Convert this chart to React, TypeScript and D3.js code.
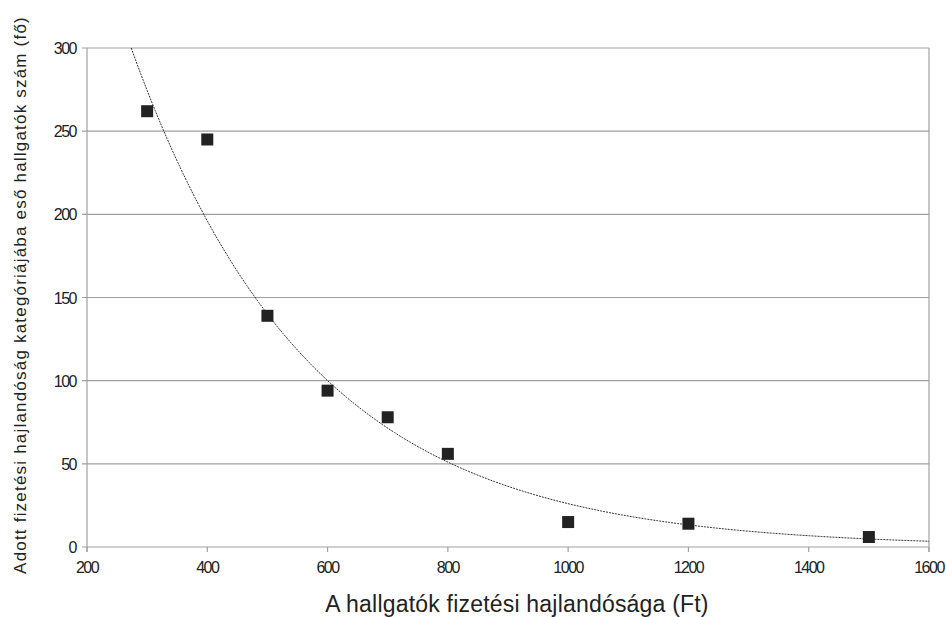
import React from "react";
import * as d3 from "d3";

const xValues = [300, 400, 500, 600, 700, 800, 1000, 1200, 1500];
const yValues = [262, 245, 139, 94, 78, 56, 15, 14, 6];
const xTicks = [200, 400, 600, 800, 1000, 1200, 1400, 1600];
const yTicks = [0, 50, 100, 150, 200, 250, 300];
const xTitle = "A hallgatók fizetési hajlandósága (Ft)";
const yTitle = "Adott fizetési hajlandóság kategóriájába eső hallgatók szám (fő)";

export default function App() {
  const W = 946, H = 617;
  const left = 87, right = 929, top = 48, bottom = 547;
  const x = d3.scaleLinear().domain([200, 1600]).range([left, right]);
  const y = d3.scaleLinear().domain([0, 300]).range([bottom, top]);

  // exponential least-squares trend line computed from the data
  const lx = xValues;
  const ly = yValues.map((v) => Math.log(v));
  const mx = d3.mean(lx)!;
  const my = d3.mean(ly)!;
  let sxy = 0, sxx = 0;
  lx.forEach((v, i) => { sxy += (v - mx) * (ly[i] - my); sxx += (v - mx) * (v - mx); });
  const b = sxy / sxx;
  const a = Math.exp(my - b * mx);
  const xStart = Math.log(300 / a) / b;
  const trendPts = d3.range(0, 201).map((i) => {
    const xv = xStart + ((1600 - xStart) * i) / 200;
    return [xv, a * Math.exp(b * xv)] as [number, number];
  });
  const line = d3.line<[number, number]>().x((d) => x(d[0])).y((d) => y(d[1]));

  const font = "'Liberation Sans', Arial, sans-serif";
  const sq = 12;
  return (
    <svg width={W} height={H} style={{ position: "absolute", left: 0, top: 0, background: "#fff" }}>
      <rect x={0} y={0} width={W} height={H} fill="#fff" />
      {yTicks.map((t) => (
        <g key={"y" + t}>
          <line x1={left - 5} x2={right} y1={y(t)} y2={y(t)} stroke="#a0a0a0" strokeWidth={1.2} />
          <text x={76} y={y(t) + 6} textAnchor="end" fontFamily={font} fontSize={16} fill="#222" letterSpacing={-1.5}>{t}</text>
        </g>
      ))}
      <line x1={left} x2={left} y1={top} y2={bottom + 5} stroke="#a0a0a0" strokeWidth={1.2} />
      <line x1={right} x2={right} y1={top} y2={bottom + 5} stroke="#a0a0a0" strokeWidth={1.2} />
      {xTicks.map((t) => (
        <g key={"x" + t}>
          <line x1={x(t)} x2={x(t)} y1={bottom} y2={bottom + 5} stroke="#a0a0a0" strokeWidth={1.2} />
          <text x={x(t)} y={573} textAnchor="middle" fontFamily={font} fontSize={16} fill="#222" letterSpacing={-1.5}>{t}</text>
        </g>
      ))}
      <path d={line(trendPts) || ""} fill="none" stroke="#333" strokeWidth={1} strokeDasharray="2,1" />
      {xValues.map((xv, i) => (
        <rect key={"p" + i} x={x(xv) - sq / 2} y={y(yValues[i]) - sq / 2} width={sq} height={sq} fill="#222" />
      ))}
      <text x={517} y={612} textAnchor="middle" fontFamily={font} fontSize={23} fill="#222" letterSpacing={0.2}>{xTitle}</text>
      <text transform={`translate(26,295) rotate(-90)`} textAnchor="middle" fontFamily={font} fontSize={17} fill="#222" letterSpacing={1.2}>{yTitle}</text>
    </svg>
  );
}
